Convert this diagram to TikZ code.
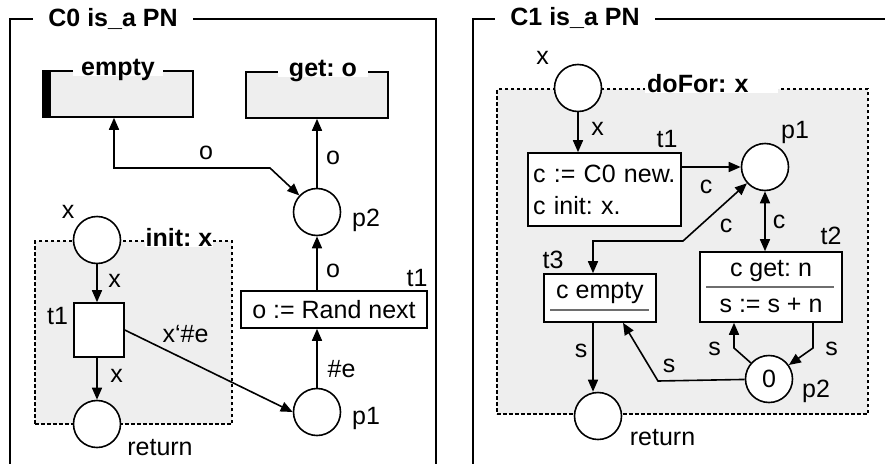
\documentclass[tikz,border=0pt]{standalone}
\usepackage{fontspec}
\setmainfont{Liberation Sans}
\usetikzlibrary{arrows.meta, positioning, calc}

\definecolor{regionbg}{HTML}{EEEEEE}
\definecolor{sepline}{HTML}{6E6E6E}

\frenchspacing

\begin{document}
\begin{tikzpicture}[
    x=1pt, y=-1pt,
    >={Triangle[length=12pt, width=10pt]},
    every node/.style={font=\fontsize{25}{30}\selectfont},
    classframe/.style={rectangle, draw, line width=2pt, anchor=north west,
        minimum height=480pt},
    ftitle/.style={font=\fontsize{25}{30}\selectfont\bfseries, fill=white,
        anchor=base, inner ysep=1pt, text depth=0pt},
    region/.style={rectangle, draw, line width=1.3pt,
        dash pattern=on 3.5pt off 2.5pt, fill=regionbg, inner sep=0pt},
    iface/.style={rectangle, draw, line width=1.6pt, fill=regionbg, inner sep=0pt},
    place/.style={circle, draw, line width=1.6pt, fill=white,
        minimum size=47pt, inner sep=0pt},
    trans/.style={rectangle, draw, line width=1.6pt, fill=white, inner sep=0pt},
    lbl/.style={anchor=base, inner sep=0pt},
    flow/.style={->, line width=1.6pt},
    sepbar/.style={line width=2pt, color=sepline},
]

\useasboundingbox (0,0) rectangle (885,463);

%% ============ C0 ============

\node[classframe, minimum width=426pt] (c0) at (9,18) {};
\node[ftitle, inner xsep=15pt] (c0title) at (113,26) {C0 is\_a PN};

% interface boxes
\node[iface, minimum width=150pt, minimum height=46pt] (empty) at (118,94) {};
\fill (empty.north west) rectangle ([xshift=9pt]empty.south west);
\node[ftitle, inner xsep=8pt] (emptytitle) at (118,75) {empty};

\node[iface, minimum width=142pt, minimum height=46pt] (geto) at (317,95) {};
\node[ftitle, inner xsep=11pt] (getotitle) at (323,76) {get: o};

% init: x region
\node[region, minimum width=197pt, minimum height=183pt] (init) at (133.5,332.5) {};
\node[ftitle, inner xsep=1pt] (inittitle) at (179,246) {init: x};

% places and transitions
\node[place] (p2) at (317,212) {};
\node[lbl] (p2lab) at (366,226) {p2};

\node[trans, minimum width=186pt, minimum height=37pt] (rand) at (334,309.5) {o := Rand next};
\node[lbl] (randlab) at (417,286) {t1};

\node[place] (p1) at (317,412) {};
\node[lbl] (p1lab) at (366,424) {p1};

\node[place] (xin0) at (97,240) {};
\node[lbl] (xin0lab) at (68,218) {x};

\node[trans, minimum width=50pt, minimum height=54pt] (initt) at (99,330) {};
\node[lbl] (inittlab) at (57.5,324) {t1};

\node[place] (ret0) at (97,424) {};
\node[lbl] (ret0lab) at (160,455) {return};

% arcs
\draw[flow, <->] ([xshift=-4pt]empty.south) |- (270,168) -- (p2);
\draw[flow] (p2) -- (geto.south);
\draw[flow] (rand.north -| p2) -- (p2);
\draw[flow] (p1) -- (rand.south -| p1);
\draw[flow] (xin0) -- (initt.north -| xin0);
\draw[flow] (initt.south -| xin0) -- (ret0);
\draw[flow] (initt.east) -- (p1.west);

% arc labels (fixed positions)
\node[lbl] (l1) at (206,159) {o};
\node[lbl] (l2) at (333,164) {o};
\node[lbl] (l3) at (333,277) {o};
\node[lbl] (l4) at (341.5,377) {\#e};
\node[lbl] (l5) at (114.5,287) {x};
\node[lbl] (l6) at (116.5,382) {x};
\node[lbl] (l7) at (185.5,342) {x‘\#e};

%% ============ C1 ============

\node[classframe, minimum width=500pt] (c1) at (472,18) {};
\node[ftitle, inner xsep=15pt] (c1title) at (575,25.5) {C1 is\_a PN};

% doFor: x region
\node[region, minimum width=371pt, minimum height=325pt] (dofor) at (682.5,251.5) {};
\node[ftitle, anchor=base west, text width=129pt, align=left, inner xsep=2pt]
    (dofortitle) at (645,92) {doFor: x};

% places and transitions
\node[place] (xin1) at (578,88) {};
\node[lbl] (xin1lab) at (542.5,64) {x};

\node[trans, minimum width=153pt, minimum height=73pt, text width=143pt,
      align=left, inner xsep=5pt] (newc) at (604.5,189.5) {c := C0 new.\\[2pt]c init: x.};
\node[lbl] (newclab) at (667,147) {t1};

\node[place] (cp1) at (765,167) {};
\node[lbl] (cp1lab) at (795,138) {p1};

\node[trans, minimum width=142pt, minimum height=70pt, align=center]
    (getn) at (771,287) {c get: n\\[6pt]s := s + n};
\draw[sepbar] ([xshift=7pt]getn.west) -- ([xshift=-9pt]getn.east);
\node[lbl] (getnlab) at (831,244) {t2};

\node[trans, minimum width=112pt, minimum height=48pt, text height=24pt,
      text depth=24pt] (cempty) at (600,298) {c empty};
\draw[sepbar] ([xshift=7pt,yshift=-12pt]cempty.west) -- ([xshift=-8pt,yshift=-12pt]cempty.east);
\node[lbl] (cemptylab) at (553,268) {t3};

\node[place] (cp2) at (769,379) {0};
\node[lbl] (cp2lab) at (816,397) {p2};

\node[place] (ret1) at (598,416) {};
\node[lbl] (ret1lab) at (662.5,445) {return};

% arcs
\draw[flow] (xin1) -- (newc.north -| xin1);
\draw[flow] (newc.east |- cp1) -- (cp1);
\draw[flow, <->] (cp1) -- (getn.north -| cp1);
\draw[flow, <->] ([xshift=-7pt]cempty.north) |- (683,241) -- (cp1);
\draw[flow] ([xshift=-7pt]cempty.south) -- ([xshift=-5pt]ret1.north);
\draw[flow] (cp2) -- (658,381) -- ([xshift=23pt]cempty.south);
\draw[flow] (cp2) -- (734,348) -- ([xshift=-37pt]getn.south);
\draw[flow] ([xshift=42pt]getn.south) -- (813,348) -- (cp2);

% arc labels (fixed positions)
\node[lbl] (m1) at (597.5,135) {x};
\node[lbl] (m2) at (706,193) {c};
\node[lbl] (m3) at (779,228) {c};
\node[lbl] (m4) at (726,232) {c};
\node[lbl] (m5) at (581,357) {s};
\node[lbl] (m6) at (669,372) {s};
\node[lbl] (m7) at (714.5,355) {s};
\node[lbl] (m8) at (831.5,355) {s};

\end{tikzpicture}
\end{document}
